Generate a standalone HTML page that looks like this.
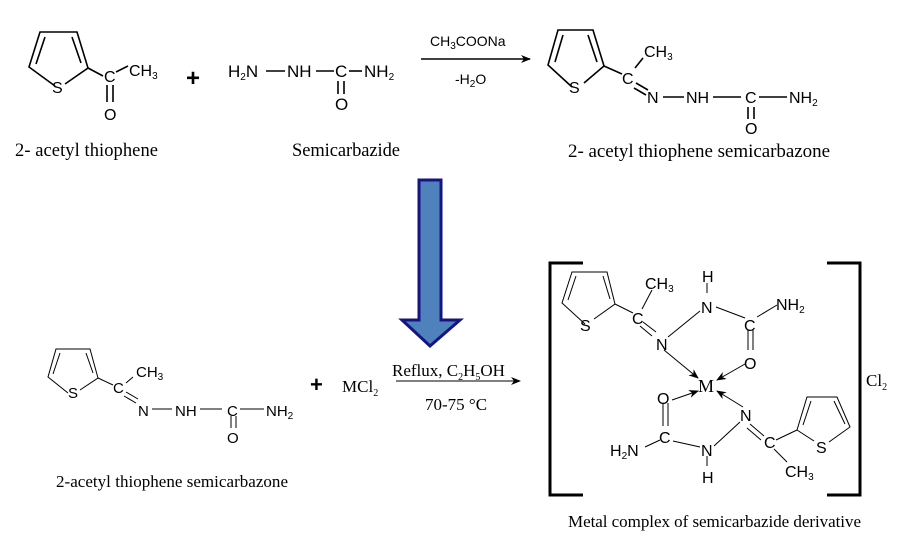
<!DOCTYPE html>
<html><head><meta charset="utf-8"><style>
html,body{margin:0;padding:0;background:#fff;width:914px;height:551px;overflow:hidden}
svg{display:block}
.s{font-family:"Liberation Sans",sans-serif;font-size:16px;fill:#000}
.r{font-family:"Liberation Serif",serif;font-size:15px;fill:#000}
.sub{font-size:10px}
line,polyline,polygon.p{stroke:#000;stroke-width:1.6;fill:none}
.t line,.t polyline{stroke-width:1}
</style></head><body>
<svg width="914" height="551" viewBox="0 0 914 551">
<defs><marker id="ah" markerWidth="10" markerHeight="8" refX="9" refY="4" orient="auto" markerUnits="userSpaceOnUse"><polygon points="0,0 10,4 0,8 3,4" fill="#000"/></marker></defs>

<polyline points="55,86 29,67 40,32 77,32 88,68 65,84"/>
<line x1="36" y1="64" x2="45" y2="37"/><line x1="72" y1="37" x2="81" y2="63"/>
<text class="s" x="52" y="93">S</text>
<line x1="88" y1="68" x2="103" y2="76"/>
<text class="s" x="104" y="82">C</text>
<line x1="116" y1="72" x2="128" y2="66"/>
<text class="s" x="129" y="76">CH<tspan class="sub" dy="3">3</tspan></text>
<line x1="107" y1="85" x2="107" y2="102"/><line x1="113" y1="85" x2="113" y2="102"/>
<text class="s" x="104" y="120">O</text>
<text class="r" x="15" y="156" style="font-size:18.5px" textLength="143">2- acetyl thiophene</text>
<text x="186" y="86" style="font:bold 24px 'Liberation Sans',sans-serif">+</text>

<text class="s" x="228" y="77" style="font-size:17px">H<tspan class="sub" dy="3">2</tspan><tspan dy="-3">N</tspan></text>
<line x1="266" y1="71" x2="285" y2="71"/>
<text class="s" x="287" y="77" style="font-size:17px">NH</text>
<line x1="316" y1="71" x2="334" y2="71"/>
<text class="s" x="335" y="77" style="font-size:17px">C</text>
<line x1="349" y1="71" x2="362" y2="71"/>
<text class="s" x="364" y="77" style="font-size:17px">NH<tspan class="sub" dy="3">2</tspan></text>
<line x1="338" y1="81" x2="338" y2="94"/><line x1="344" y1="81" x2="344" y2="94"/>
<text class="s" x="335" y="110" style="font-size:17px">O</text>
<text class="r" x="292" y="156" style="font-size:18.5px" textLength="108">Semicarbazide</text>

<line x1="421" y1="59" x2="530" y2="59" marker-end="url(#ah)" style="stroke-width:1.4"/>
<text class="s" x="430" y="46" style="font-size:14px">CH<tspan class="sub" dy="3">3</tspan><tspan dy="-3">COONa</tspan></text>
<text class="s" x="455" y="84" style="font-size:14px">-H<tspan class="sub" dy="3">2</tspan><tspan dy="-3">O</tspan></text>

<polyline points="572,87 548,65 558,30 593,30 604,66 584,83"/>
<line x1="555" y1="62" x2="563" y2="35"/><line x1="588" y1="35" x2="597" y2="62"/>
<text class="s" x="569" y="93">S</text>
<line x1="604" y1="66" x2="622" y2="74"/>
<text class="s" x="622" y="84">C</text>
<line x1="635" y1="68" x2="643" y2="58"/>
<text class="s" x="644" y="57">CH<tspan class="sub" dy="3">3</tspan></text>
<line x1="636" y1="83" x2="648" y2="90"/><line x1="634" y1="88" x2="646" y2="95"/>
<text class="s" x="647" y="103">N</text>
<line x1="663" y1="97" x2="684" y2="97"/>
<text class="s" x="686" y="103">NH</text>
<line x1="713" y1="97" x2="741" y2="97"/>
<text class="s" x="745" y="103">C</text>
<line x1="759" y1="97" x2="787" y2="97"/>
<text class="s" x="789" y="103">NH<tspan class="sub" dy="3">2</tspan></text>
<line x1="748" y1="107" x2="748" y2="119"/><line x1="754" y1="107" x2="754" y2="119"/>
<text class="s" x="745" y="134">O</text>
<text class="r" x="568" y="157" style="font-size:19px" textLength="262">2- acetyl thiophene semicarbazone</text>

<polygon points="419,180 441,180 441,320 460,320 430,346 402,320 419,320" fill="#4f81bd" stroke="#141482" stroke-width="3"/>

<g class="t">
<polyline points="68,393 48,377 56,349 90,349 98,378 80,390"/>
<line x1="53" y1="374" x2="60" y2="353"/><line x1="86" y1="353" x2="93" y2="373"/>
<line x1="98" y1="378" x2="113" y2="385"/>
<line x1="126" y1="383" x2="133" y2="377"/>
<line x1="126" y1="392" x2="138" y2="399"/><line x1="124" y1="396" x2="136" y2="403"/>
<line x1="152" y1="409" x2="172" y2="409"/>
<line x1="200" y1="409" x2="222" y2="409"/>
<line x1="240" y1="409" x2="264" y2="409"/>
<line x1="231" y1="416" x2="231" y2="428"/><line x1="236" y1="416" x2="236" y2="428"/>
</g>
<text class="s" x="68" y="398" style="font-size:15px">S</text>
<text class="s" x="113" y="393" style="font-size:15px">C</text>
<text class="s" x="136" y="377" style="font-size:15px">CH<tspan class="sub" dy="3">3</tspan></text>
<text class="s" x="138" y="416" style="font-size:15px">N</text>
<text class="s" x="175" y="416" style="font-size:15px">NH</text>
<text class="s" x="227" y="416" style="font-size:15px">C</text>
<text class="s" x="266" y="416" style="font-size:15px">NH<tspan class="sub" dy="3">2</tspan></text>
<text class="s" x="227" y="443" style="font-size:15px">O</text>
<text class="r" x="56" y="487" style="font-size:17px" textLength="232">2-acetyl thiophene semicarbazone</text>
<text x="310" y="392" style="font:bold 22px 'Liberation Sans',sans-serif">+</text>
<text class="r" x="342" y="392" style="font-size:17px">MCl<tspan class="sub" dy="4">2</tspan></text>
<text class="r" x="392" y="376" style="font-size:17px">Reflux, C<tspan class="sub" dy="4">2</tspan><tspan dy="-4">H</tspan><tspan class="sub" dy="4">5</tspan><tspan dy="-4">OH</tspan></text>
<line x1="396" y1="381" x2="520" y2="381" marker-end="url(#ah)" style="stroke-width:1"/>
<text class="r" x="425" y="410" style="font-size:17px">70-75 °C</text>

<polyline points="583,263 550,263 550,495 583,495" style="stroke-width:3"/>
<polyline points="827,263 860,263 860,495 827,495" style="stroke-width:3"/>
<text class="r" x="866" y="386" style="font-size:17px">Cl<tspan class="sub" dy="4">2</tspan></text>
<g class="t">
<polyline points="585,324 562,303 572,272 607,272 615,304 594,319"/>
<line x1="568" y1="300" x2="576" y2="276"/><line x1="603" y1="276" x2="610" y2="299"/>
<line x1="615" y1="304" x2="633" y2="313"/>
<line x1="642" y1="309" x2="652" y2="290"/>
<line x1="643" y1="322" x2="656" y2="332"/><line x1="640" y1="326" x2="652" y2="336"/>
<line x1="668" y1="337" x2="700" y2="311"/>
<line x1="707" y1="283" x2="707" y2="293"/>
<line x1="716" y1="307" x2="745" y2="318"/>
<line x1="757" y1="317" x2="777" y2="305"/>
<line x1="748" y1="330" x2="748" y2="350"/><line x1="753" y1="330" x2="753" y2="350"/>
<line x1="664" y1="350" x2="698" y2="378" marker-end="url(#ah)"/>
<line x1="745" y1="364" x2="717" y2="380" marker-end="url(#ah)"/>
<line x1="672" y1="400" x2="698" y2="391" marker-end="url(#ah)"/>
<line x1="743" y1="407" x2="717" y2="391" marker-end="url(#ah)"/>
<line x1="663" y1="403" x2="663" y2="426"/><line x1="668" y1="403" x2="668" y2="426"/>
<line x1="645" y1="447" x2="660" y2="440"/>
<line x1="673" y1="441" x2="700" y2="447"/>
<line x1="714" y1="446" x2="740" y2="422"/>
<line x1="707" y1="456" x2="707" y2="466"/>
<line x1="750" y1="424" x2="764" y2="436"/><line x1="747" y1="428" x2="761" y2="440"/>
<line x1="776" y1="440" x2="797" y2="430"/>
<line x1="774" y1="449" x2="787" y2="462"/>
<polyline points="797,430 807,397 837,397 850,427 829,442"/>
<line x1="803" y1="425" x2="811" y2="401"/><line x1="834" y1="401" x2="845" y2="424"/>
<line x1="797" y1="430" x2="814" y2="441"/>
</g>
<text class="s" x="580" y="331" style="font-size:16px">S</text>
<text class="s" x="632" y="324" style="font-size:16px">C</text>
<text class="s" x="645" y="289" style="font-size:16px">CH<tspan class="sub" dy="3">3</tspan></text>
<text class="s" x="656" y="350" style="font-size:16px">N</text>
<text class="s" x="702" y="282" style="font-size:16px">H</text>
<text class="s" x="701" y="313" style="font-size:16px">N</text>
<text class="s" x="744" y="331" style="font-size:16px">C</text>
<text class="s" x="776" y="310" style="font-size:16px">NH<tspan class="sub" dy="3">2</tspan></text>
<text class="s" x="744" y="369" style="font-size:16px">O</text>
<text class="r" x="698" y="392" style="font-size:18px">M</text>
<text class="s" x="657" y="404" style="font-size:16px">O</text>
<text class="s" x="659" y="443" style="font-size:16px">C</text>
<text class="s" x="610" y="456" style="font-size:16px">H<tspan class="sub" dy="3">2</tspan><tspan dy="-3">N</tspan></text>
<text class="s" x="701" y="456" style="font-size:16px">N</text>
<text class="s" x="702" y="483" style="font-size:16px">H</text>
<text class="s" x="740" y="421" style="font-size:16px">N</text>
<text class="s" x="764" y="448" style="font-size:16px">C</text>
<text class="s" x="816" y="453" style="font-size:16px">S</text>
<text class="s" x="785" y="477" style="font-size:16px">CH<tspan class="sub" dy="3">3</tspan></text>
<text class="r" x="568" y="527" style="font-size:17px" textLength="293">Metal complex of semicarbazide derivative</text>
</svg>
</body></html>
